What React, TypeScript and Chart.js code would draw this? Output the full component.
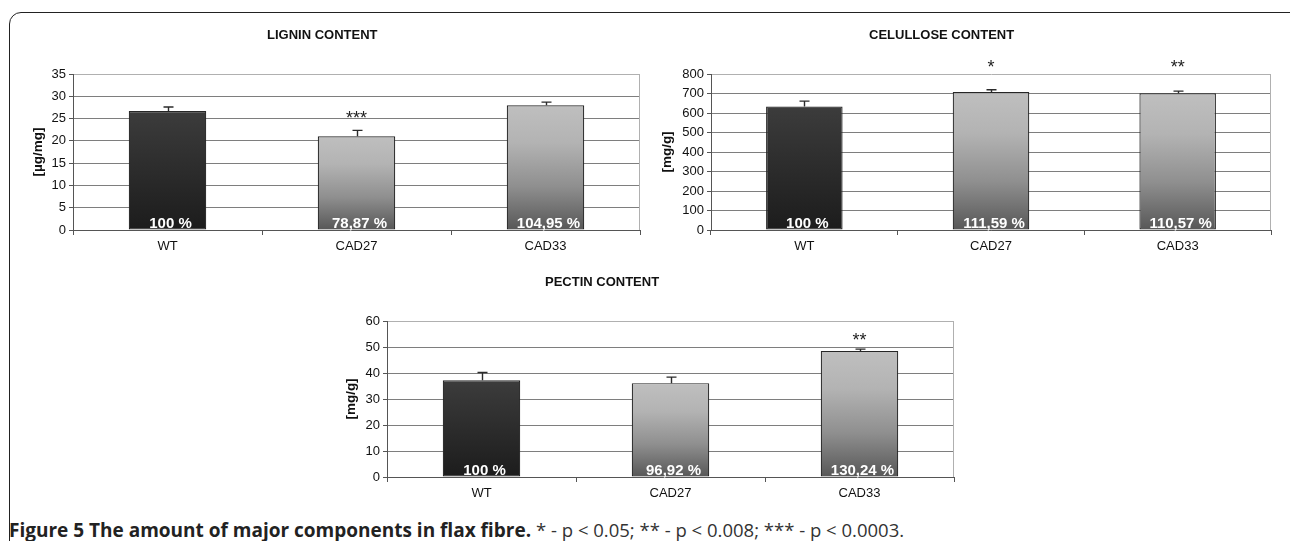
import React, { useEffect, useRef } from 'react';
import { Chart, registerables } from 'chart.js';

Chart.register(...registerables);

// ---------- data ----------
const categories = ['WT', 'CAD27', 'CAD33'];
const barTones = ['dark', 'light', 'light'];

const ligninValues = [26.7, 21.05, 28.0];
const ligninErrors = [0.9, 1.3, 0.7];
const ligninPercents = ['100 %', '78,87 %', '104,95 %'];
const ligninStars = ['', '***', ''];
const ligninStarLevels = [0, 26.3, 0];
const ligninAxis = [0, 35, 5];

const celluloseValues = [633, 708, 701];
const celluloseErrors = [28, 11, 11];
const cellulosePercents = ['100 %', '111,59 %', '110,57 %'];
const celluloseStars = ['', '*', '**'];
const celluloseStarLevels = [0, 863, 863];
const celluloseAxis = [0, 800, 100];

const pectinValues = [37.2, 36.1, 48.5];
const pectinErrors = [3.0, 2.3, 0.7];
const pectinPercents = ['100 %', '96,92 %', '130,24 %'];
const pectinStars = ['', '', '**'];
const pectinStarLevels = [0, 0, 54.7];
const pectinAxis = [0, 60, 10];

const FONT = '"Liberation Sans", Arial, sans-serif';

const decorPlugin = {
  id: 'decor',
  afterDatasetsDraw(chart: any, _args: any, opts: any) {
    const ctx = chart.ctx as CanvasRenderingContext2D;
    const ca = chart.chartArea;
    const ys = chart.scales.y;
    const meta = chart.getDatasetMeta(0);
    const data = chart.data.datasets[0].data as number[];
    ctx.save();
    // right border of plot
    ctx.strokeStyle = '#b0b0b0';
    ctx.lineWidth = 1;
    const rx = Math.round(ca.right) - 0.5;
    ctx.beginPath();
    ctx.moveTo(rx, ca.top);
    ctx.lineTo(rx, ca.bottom);
    ctx.stroke();

    const zero = ys.getPixelForValue(0);
    meta.data.forEach((bar: any, i: number) => {
      const cx = Math.round(bar.x) + 0.5;
      const top = ys.getPixelForValue(data[i] + opts.errors[i]);
      ctx.strokeStyle = '#2b2b2b';
      ctx.lineWidth = 1.4;
      ctx.beginPath();
      ctx.moveTo(cx, bar.y);
      ctx.lineTo(cx, top);
      ctx.moveTo(cx - 5, top);
      ctx.lineTo(cx + 5, top);
      ctx.stroke();

      ctx.fillStyle = '#ffffff';
      ctx.font = 'bold 15px ' + FONT;
      ctx.textAlign = 'center';
      ctx.textBaseline = 'alphabetic';
      ctx.fillText(opts.percents[i], bar.x + 3, zero - 2);

      if (opts.stars[i]) {
        ctx.fillStyle = '#222';
        ctx.font = '18px ' + FONT;
        ctx.fillText(opts.stars[i], bar.x, ys.getPixelForValue(opts.starLevels[i]) + 11);
      }
    });

    ctx.fillStyle = '#111';
    ctx.font = 'bold 13px ' + FONT;
    ctx.textAlign = 'left';
    ctx.textBaseline = 'middle';
    ctx.fillText(opts.title, opts.titleX, opts.titleY);

    ctx.font = 'bold 13.5px ' + FONT;
    ctx.translate(opts.yTitleX, (ca.top + ca.bottom) / 2);
    ctx.rotate(-Math.PI / 2);
    ctx.textAlign = 'center';
    ctx.fillText(opts.yTitle, 0, 0);
    ctx.restore();
  },
};

type PanelProps = {
  left: number; top: number; width: number; height: number;
  plotLeft: number; plotTop: number; plotRight: number; plotBottom: number;
  xAxisHeight: number;
  values: number[]; errors: number[]; percents: string[]; stars: string[]; starLevels: number[];
  axis: number[];
  title: string; titleX: number; titleY: number; yTitle: string; yTitleX: number;
};

function Panel(p: PanelProps) {
  const ref = useRef<HTMLCanvasElement | null>(null);
  useEffect(() => {
    if (!ref.current) return;
    const a = p.plotLeft - p.left;
    const b = p.plotTop - p.top;
    const c = p.plotRight - p.left;
    const d = p.plotBottom - p.top;
    const [minV, maxV, step] = p.axis;
    const chart = new Chart(ref.current, {
      type: 'bar',
      data: {
        labels: categories,
        datasets: [
          {
            data: p.values,
            backgroundColor: (cx: any) => {
              const ch = cx.chart;
              const ys = ch.scales && ch.scales.y;
              if (!ys || cx.type !== 'data') return '#888';
              const t = ys.getPixelForValue(cx.raw as number);
              const bt = ys.getPixelForValue(0);
              if (!isFinite(t) || !isFinite(bt) || bt - t < 1) return '#888';
              const g = ch.ctx.createLinearGradient(0, t, 0, bt);
              if (barTones[cx.dataIndex] === 'dark') {
                g.addColorStop(0, '#3c3c3c');
                g.addColorStop(1, '#1c1c1c');
              } else {
                g.addColorStop(0, '#bfbfbf');
                g.addColorStop(0.3, '#b3b3b3');
                g.addColorStop(0.65, '#8f8f8f');
                g.addColorStop(1, '#575757');
              }
              return g;
            },
            borderColor: '#262626',
            borderWidth: 1.2,
            borderSkipped: false,
            barPercentage: 0.41,
            categoryPercentage: 1.0,
          },
        ],
      },
      options: {
        responsive: false,
        animation: false,
        layout: {
          padding: { left: 0, top: b, right: p.width - c, bottom: p.height - d - p.xAxisHeight },
        },
        plugins: {
          legend: { display: false },
          tooltip: { enabled: false },
          title: { display: false },
          decor: {
            errors: p.errors, percents: p.percents, stars: p.stars, starLevels: p.starLevels,
            title: p.title, titleX: p.titleX - p.left, titleY: p.titleY - p.top,
            yTitle: p.yTitle, yTitleX: p.yTitleX - p.left,
          },
        } as any,
        scales: {
          x: {
            type: 'category',
            offset: true,
            grid: { display: true, drawOnChartArea: false, drawTicks: true, tickLength: 5, color: '#555', offset: true },
            border: { display: true, color: '#555', width: 1 },
            ticks: { color: '#111', font: { family: FONT, size: 13 }, padding: 4, maxRotation: 0 },
            afterFit: (s: any) => { s.height = p.xAxisHeight; },
          },
          y: {
            min: minV,
            max: maxV,
            ticks: { stepSize: step, color: '#111', font: { family: FONT, size: 13 }, padding: 3 },
            grid: {
              color: (g: any) => (g.tick && g.tick.value === maxV ? '#b0b0b0' : '#7e7e7e'),
              tickColor: '#555',
              tickLength: 4,
              drawTicks: true,
            },
            border: { display: true, color: '#555', width: 1 },
            afterFit: (s: any) => { s.width = a; },
          },
        },
      } as any,
      plugins: [decorPlugin],
    });
    return () => chart.destroy();
  }, []);
  return (
    <canvas
      ref={ref}
      width={p.width}
      height={p.height}
      style={{ position: 'absolute', left: p.left, top: p.top, width: p.width, height: p.height }}
    />
  );
}

export default function App() {
  return (
    <div style={{ position: 'fixed', left: 0, top: 0, width: 1290, height: 541, overflow: 'hidden', background: '#fff' }}>
      <div
        style={{
          position: 'absolute', left: 9, top: 12, width: 1300, height: 620,
          border: '1.5px solid #222', borderRadius: 12, boxSizing: 'border-box',
        }}
      />
      <Panel
        left={10} top={15} width={640} height={250}
        plotLeft={73} plotTop={74} plotRight={640} plotBottom={230} xAxisHeight={30}
        values={ligninValues} errors={ligninErrors} percents={ligninPercents}
        stars={ligninStars} starLevels={ligninStarLevels} axis={ligninAxis}
        title="LIGNIN CONTENT" titleX={267} titleY={35} yTitle="[µg/mg]" yTitleX={38}
      />
      <Panel
        left={652} top={15} width={635} height={250}
        plotLeft={711} plotTop={74} plotRight={1271} plotBottom={230} xAxisHeight={30}
        values={celluloseValues} errors={celluloseErrors} percents={cellulosePercents}
        stars={celluloseStars} starLevels={celluloseStarLevels} axis={celluloseAxis}
        title="CELULLOSE CONTENT" titleX={869} titleY={35} yTitle="[mg/g]" yTitleX={667}
      />
      <Panel
        left={300} top={265} width={670} height={245}
        plotLeft={387} plotTop={321} plotRight={954} plotBottom={477} xAxisHeight={30}
        values={pectinValues} errors={pectinErrors} percents={pectinPercents}
        stars={pectinStars} starLevels={pectinStarLevels} axis={pectinAxis}
        title="PECTIN CONTENT" titleX={545} titleY={282} yTitle="[mg/g]" yTitleX={351}
      />
      <div
        style={{
          position: 'absolute', left: 9, top: 518, fontFamily: '"Open Sans", sans-serif',
          fontSize: 19, color: '#222', whiteSpace: 'nowrap', lineHeight: '24px',
        }}
      >
        <b>Figure 5 The amount of major components in flax fibre.</b>{' '}
        <span style={{ color: '#333', fontSize: 18.5 }}>* - p &lt; 0.05; ** - p &lt; 0.008; *** - p &lt; 0.0003.</span>
      </div>
    </div>
  );
}
